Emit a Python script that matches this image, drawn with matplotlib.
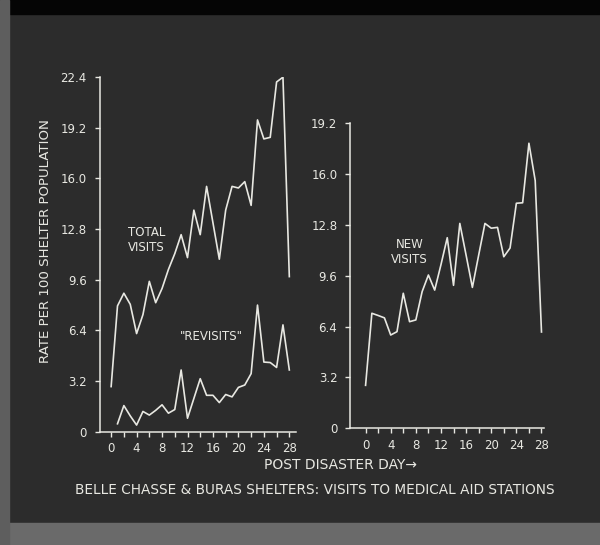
import matplotlib.pyplot as plt
from matplotlib.patches import Rectangle

# values (rate per 100 shelter population)
days = list(range(29))
total_visits = [2.85, 7.95, 8.75, 8.05, 6.2, 7.4, 9.5, 8.15, 9.05, 10.25, 11.25,
                12.45, 11.0, 14.0, 12.45, 15.5, 13.2, 10.9, 14.0, 15.5, 15.4,
                15.8, 14.3, 19.7, 18.5, 18.6, 22.1, 22.4, 9.8]
revisit_days = list(range(1, 29))
revisits = [0.5, 1.65, 1.0, 0.42, 1.28, 1.05, 1.35, 1.7, 1.17, 1.4, 3.9, 0.85,
            2.1, 3.35, 2.3, 2.3, 1.84, 2.35, 2.2, 2.8, 2.95, 3.67, 8.0, 4.4,
            4.37, 4.06, 6.75, 3.9]
new_visits = [2.7, 7.24, 7.1, 6.95, 5.87, 6.08, 8.5, 6.71, 6.82, 8.6, 9.65,
              8.7, 10.3, 12.0, 9.0, 12.9, 10.9, 8.87, 10.9, 12.9, 12.6, 12.65,
              10.8, 11.35, 14.17, 14.2, 17.95, 15.6, 6.06]

left_yticks = [0, 3.2, 6.4, 9.6, 12.8, 16.0, 19.2, 22.4]
right_yticks = [0, 3.2, 6.4, 9.6, 12.8, 16.0, 19.2]
xticks = [0, 4, 8, 12, 16, 20, 24, 28]

bg = '#2c2c2c'
fg = '#e8e8e2'
plt.rcParams['font.family'] = 'DejaVu Sans'

fig = plt.figure(figsize=(6, 5.45), dpi=100, facecolor=bg)

# scan edges
fig.patches.append(Rectangle((0, 1 - 14 / 545), 1, 14 / 545, transform=fig.transFigure,
                             color='#050505', zorder=0))
fig.patches.append(Rectangle((0, 0), 1, 22 / 545, transform=fig.transFigure,
                             color='#6a6a6a', zorder=0))
fig.patches.append(Rectangle((0, 0), 9 / 600, 1, transform=fig.transFigure,
                             color='#5e5e5e', zorder=0))

ax1 = fig.add_axes([100 / 600, 113.3 / 545, 196 / 600, 354.5 / 545])
ax2 = fig.add_axes([350.5 / 600, 116.8 / 545, 193.5 / 600, 304.8 / 545])


def style(ax, yticks):
    ax.set_facecolor('none')
    for s in ['top', 'right']:
        ax.spines[s].set_visible(False)
    for s in ['left', 'bottom']:
        ax.spines[s].set_color(fg)
        ax.spines[s].set_linewidth(1.1)
    ax.set_yticks(yticks)
    ax.set_yticklabels(['0' if v == 0 else f'{v:.1f}' for v in yticks])
    ax.set_xticks(xticks)
    ax.set_xticks(range(2, 29, 4), minor=True)
    ax.tick_params(axis='both', which='both', colors=fg, labelcolor=fg,
                   labelsize=8.5, width=1, length=3.5, direction='out')
    ax.tick_params(axis='y', pad=6)
    ax.tick_params(axis='x', pad=4)


ax1.plot(days, total_visits, color=fg, lw=1.2)
ax1.plot(revisit_days, revisits, color=fg, lw=1.2)
ax1.set_xlim(-1.75, 29.05)
ax1.set_ylim(0, 22.4)
style(ax1, left_yticks)
ax1.text(5.6, 12.1, 'TOTAL\nVISITS', color=fg, fontsize=8.5, ha='center',
         va='center', linespacing=1.25)
ax1.text(15.8, 6.0, '"REVISITS"', color=fg, fontsize=8.5, ha='center', va='center')

ax2.plot(days, new_visits, color=fg, lw=1.2)
ax2.set_xlim(-2.4, 28.4)
ax2.set_ylim(0, 19.2)
style(ax2, right_yticks)
ax2.text(7.0, 11.1, 'NEW\nVISITS', color=fg, fontsize=8.5, ha='center',
         va='center', linespacing=1.25)

fig.text(46 / 600, 1 - 240.7 / 545, 'RATE PER 100 SHELTER POPULATION', color=fg,
         fontsize=9.6, rotation=90, ha='center', va='center')
fig.text(341 / 600, 1 - 465 / 545, 'POST DISASTER DAY\u2192', color=fg,
         fontsize=10, ha='center', va='center')
fig.text(315 / 600, 1 - 489.5 / 545,
         'BELLE CHASSE & BURAS SHELTERS: VISITS TO MEDICAL AID STATIONS',
         color=fg, fontsize=9.8, ha='center', va='center')

fig.savefig('out.png', dpi=100, facecolor=bg)
